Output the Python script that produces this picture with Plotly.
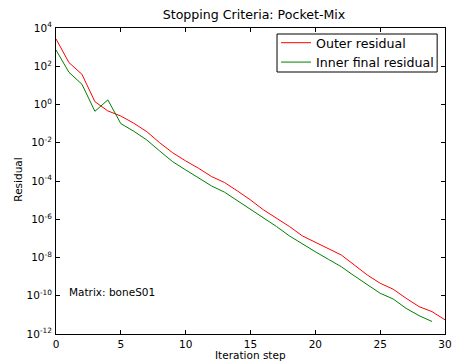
import plotly.graph_objects as go

steps_outer = list(range(0, 31))
outer_residual = [2.7e3, 1.55e2, 3.8e1, 1.41, 0.46, 0.25, 1.05e-1, 3.8e-2, 1.0e-2, 3.0e-3,
                  1.12e-3, 4.6e-4, 1.7e-4, 8.3e-5, 3.0e-5, 1.02e-5, 3.1e-6, 1.12e-6, 4.2e-7, 1.35e-7,
                  6.3e-8, 3.0e-8, 1.35e-8, 4.1e-9, 1.23e-9, 4.5e-10, 2.2e-10, 7.4e-11, 2.7e-11, 1.48e-11,
                  5.5e-12]
steps_inner = list(range(0, 30))
inner_residual = [7.1e2, 4.8e1, 1.15e1, 0.44, 1.74, 0.1, 4.0e-2, 1.4e-2, 3.7e-3, 1.02e-3,
                  3.8e-4, 1.38e-4, 5.5e-5, 2.6e-5, 9.3e-6, 3.3e-6, 1.12e-6, 4.2e-7, 1.35e-7, 5.1e-8,
                  2.0e-8, 8.1e-9, 3.3e-9, 1.1e-9, 3.7e-10, 1.35e-10, 6.8e-11, 2.2e-11, 9.1e-12, 4.5e-12]

y_tick_exps = [-12, -10, -8, -6, -4, -2, 0, 2, 4]
x_ticks = [0, 5, 10, 15, 20, 25, 30]

FONT = "DejaVu Sans"

fig = go.Figure()
fig.add_trace(go.Scatter(x=steps_outer, y=outer_residual, mode="lines", name="Outer residual",
                         line=dict(color="#ff0000", width=1)))
fig.add_trace(go.Scatter(x=steps_inner, y=inner_residual, mode="lines", name="Inner final residual",
                         line=dict(color="#008000", width=1)))

fig.update_layout(
    width=453, height=363,
    margin=dict(l=56, r=1, t=28, b=29),
    paper_bgcolor="white", plot_bgcolor="white",
    font=dict(family=FONT, size=10.5, color="black"),
    title=dict(text="Stopping Criteria: Pocket-Mix", x=254/453, xanchor="center",
               y=1 - 15/363, yanchor="middle", yref="container",
               font=dict(family=FONT, size=12.6, color="black")),
    showlegend=True,
    legend=dict(x=(280 - 56) / 396, xanchor="left", y=1.0, yanchor="top",
                borderwidth=0, bgcolor="rgba(0,0,0,0)",
                font=dict(family=FONT, size=12.6, color="black"),
                tracegroupgap=0),
)
# legend frame
fig.add_shape(type="rect", xref="paper", yref="paper",
              x0=(281 - 56) / 396, x1=(444 - 56) / 396,
              y0=(334 - 72) / 306, y1=(334 - 34) / 306,
              line=dict(color="black", width=1), fillcolor="rgba(0,0,0,0)", layer="above")

fig.update_xaxes(
    range=[0, 30], tickvals=x_ticks, ticktext=[str(v) for v in x_ticks],
    ticks="inside", ticklen=4, tickcolor="black", showline=True, linecolor="black",
    linewidth=1, mirror="ticks", showgrid=False, zeroline=False,
    tickfont=dict(family=FONT, size=10.5, color="black"),
    ticklabeloverflow="allow",
)
fig.update_yaxes(
    type="log", range=[-12, 4],
    tickvals=[10.0 ** e for e in y_tick_exps],
    ticktext=["10<sup>%d</sup>" % e for e in y_tick_exps],
    ticks="inside", ticklen=4, tickcolor="black", showline=True, linecolor="black",
    linewidth=1, mirror="ticks", showgrid=False, zeroline=False,
    tickfont=dict(family=FONT, size=10.5, color="black"),
    ticklabelstandoff=1,
)
fig.add_annotation(text="Iteration step", xref="paper", yref="paper",
                   x=0.5, y=-(355 - 334) / 306, xanchor="center", yanchor="middle",
                   showarrow=False, font=dict(family=FONT, size=10.5, color="black"))
fig.add_annotation(text="Residual", xref="paper", yref="paper",
                   x=(17 - 56) / 396, y=(334 - 180) / 306, xanchor="center", yanchor="middle",
                   textangle=-90, showarrow=False, font=dict(family=FONT, size=10.5, color="black"))
fig.add_annotation(text="Matrix: boneS01", xref="x", yref="paper",
                   x=0.85, y=(334 - 292) / 306, xanchor="left", yanchor="middle",
                   showarrow=False, font=dict(family=FONT, size=10.5, color="black"))

fig.write_html("out.html", config={"displayModeBar": False},
               post_script="document.body.style.margin='0';")
